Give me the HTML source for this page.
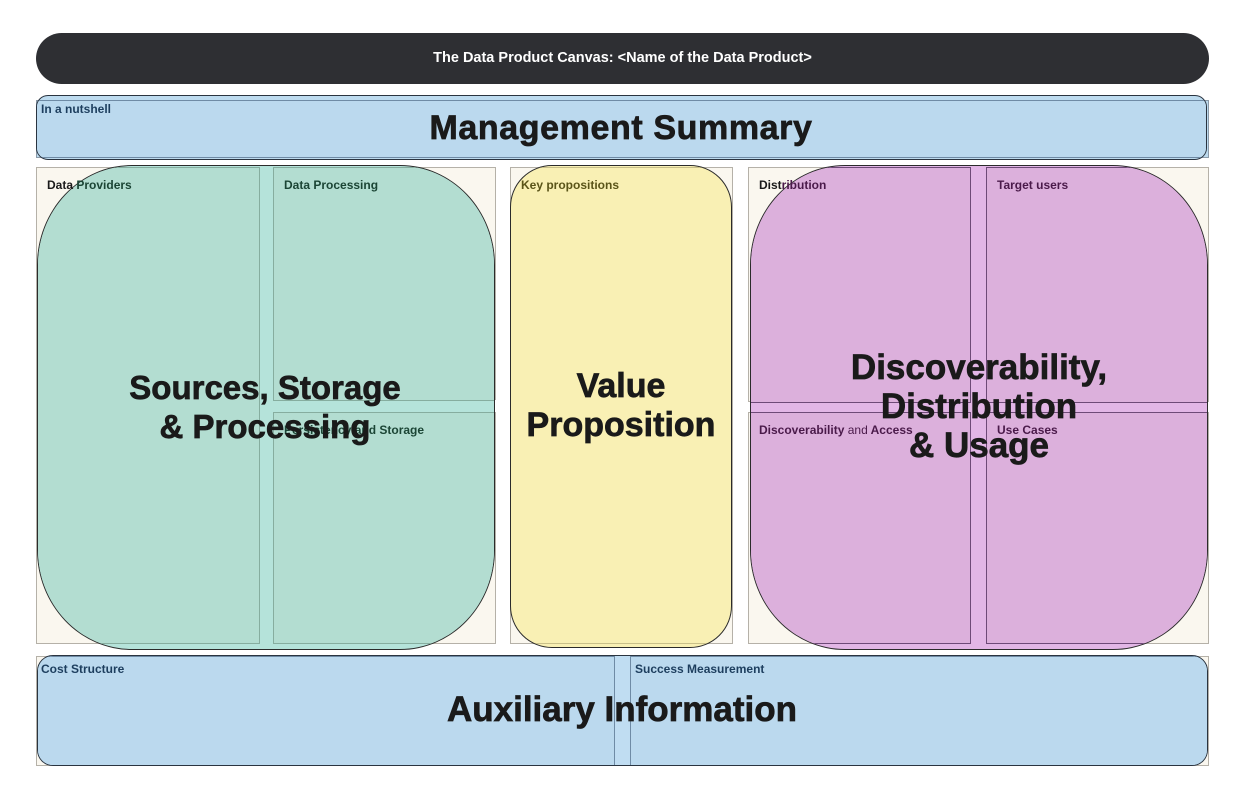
<!DOCTYPE html>
<html><head><meta charset="utf-8">
<style>
*{margin:0;padding:0;box-sizing:border-box}
html,body{width:1243px;height:804px;background:#fff;overflow:hidden;font-family:"Liberation Sans",Arial,sans-serif}
.a{position:absolute}
.cream{position:absolute;background:#faf7ef;border:1px solid #b5b1a8}
.blob{position:absolute;border:1px solid #2b2b2b;overflow:hidden}
.sub{position:absolute;border:1px solid}
.lbl{position:absolute;font-size:12px;font-weight:bold;line-height:14px;white-space:nowrap}
.big{position:absolute;font-weight:bold;color:#1a1a1a;text-align:center;white-space:nowrap;-webkit-text-stroke:0.7px #1a1a1a}
</style></head><body>

<!-- header -->
<div class="a" style="left:36px;top:33px;width:1173px;height:51px;border-radius:26px;background:#2e2f33"></div>
<div class="a" style="left:36px;top:49px;width:1173px;text-align:center;color:#fff;font-size:14.5px;font-weight:bold;line-height:18px">The Data Product Canvas: &lt;Name of the Data Product&gt;</div>

<!-- management summary -->
<div class="cream" style="left:36px;top:100px;width:1173px;height:58px;background:#bcdaee;border-color:#8b9aa8"></div>
<div class="blob" style="left:36px;top:95px;width:1171px;height:65px;border-radius:12px;background:#bddbef;border-color:#2a3440">
  <div class="sub" style="left:-1px;top:4px;width:1180px;height:58px;border-color:#6f8ba5;background:#bbd9ee"></div>
</div>
<div class="lbl" style="left:41px;top:102px;color:#1d3e5e">In a nutshell</div>
<div class="big" style="left:321px;top:108px;width:600px;font-size:34px;line-height:40px;letter-spacing:0.6px">Management Summary</div>

<!-- green section -->
<div class="cream" style="left:36px;top:167px;width:224px;height:477px"></div>
<div class="cream" style="left:273px;top:167px;width:223px;height:233px"></div>
<div class="cream" style="left:273px;top:412px;width:223px;height:232px"></div>
<div class="blob" style="left:37px;top:165px;width:458px;height:485px;border-radius:95px/100px;background:#b5e3da">
  <div class="sub" style="left:-2px;top:1px;width:224px;height:477px;background:#b3ddd1;border-color:#86ad9f"></div>
  <div class="sub" style="left:235px;top:1px;width:223px;height:234px;background:#b3ddd1;border-color:#86ad9f"></div>
  <div class="sub" style="left:235px;top:246px;width:223px;height:232px;background:#b3ddd1;border-color:#86ad9f"></div>
</div>
<div class="lbl" style="left:47px;top:178px;color:#1b4535"><span style="color:#1a1a1a">Data</span> Providers</div>
<div class="lbl" style="left:284px;top:178px;color:#1b4535">Data Processing</div>
<div class="lbl" style="left:284px;top:423px;color:#1b4535">Persistency and Storage</div>
<div class="big" style="left:65px;top:368px;width:400px;font-size:33px;line-height:39px">Sources, Storage<br>&amp; Processing</div>

<!-- yellow section -->
<div class="cream" style="left:510px;top:167px;width:223px;height:477px"></div>
<div class="blob" style="left:510px;top:165px;width:222px;height:483px;border-radius:42px;background:#f9f0b4">
  <div class="sub" style="left:-1px;top:1px;width:222px;height:477px;border-color:#c9c08a"></div>
</div>
<div class="lbl" style="left:521px;top:178px;color:#5a5418">Key propositions</div>
<div class="big" style="left:471px;top:367px;width:300px;font-size:34px;line-height:39px">Value<br>Proposition</div>

<!-- purple section -->
<div class="cream" style="left:748px;top:167px;width:223px;height:235px"></div>
<div class="cream" style="left:986px;top:167px;width:223px;height:235px"></div>
<div class="cream" style="left:748px;top:412px;width:223px;height:232px"></div>
<div class="cream" style="left:986px;top:412px;width:223px;height:232px"></div>
<div class="blob" style="left:750px;top:165px;width:458px;height:485px;border-radius:95px/100px;background:#e2b6e6">
  <div class="sub" style="left:-3px;top:1px;width:223px;height:236px;background:#dcb0dc;border-color:#6e4a78"></div>
  <div class="sub" style="left:235px;top:1px;width:223px;height:236px;background:#dcb0dc;border-color:#6e4a78"></div>
  <div class="sub" style="left:-3px;top:246px;width:223px;height:232px;background:#dcb0dc;border-color:#6e4a78"></div>
  <div class="sub" style="left:235px;top:246px;width:223px;height:232px;background:#dcb0dc;border-color:#6e4a78"></div>
</div>
<div class="lbl" style="left:759px;top:178px;color:#4a1a4a"><span style="color:#1a1a1a">Dist</span>ribution</div>
<div class="lbl" style="left:997px;top:178px;color:#4a1a4a">Target users</div>
<div class="lbl" style="left:759px;top:423px;color:#4a1a4a">Discoverability <span style="font-weight:normal">and</span> Access</div>
<div class="lbl" style="left:997px;top:423px;color:#4a1a4a">Use Cases</div>
<div class="big" style="left:779px;top:348px;width:400px;font-size:35px;line-height:39px">Discoverability,<br>Distribution<br>&amp; Usage</div>

<!-- bottom -->
<div class="cream" style="left:36px;top:656px;width:579px;height:110px"></div>
<div class="cream" style="left:630px;top:656px;width:579px;height:110px"></div>
<div class="blob" style="left:37px;top:655px;width:1171px;height:111px;border-radius:16px;background:#c0ddf2;border-color:#2a3440">
  <div class="sub" style="left:-2px;top:0px;width:579px;height:112px;background:#bbd9ee;border-color:#6f8ba5"></div>
  <div class="sub" style="left:592px;top:0px;width:579px;height:112px;background:#bbd9ee;border-color:#6f8ba5"></div>
</div>
<div class="lbl" style="left:41px;top:662px;color:#1d3e5e">Cost Structure</div>
<div class="lbl" style="left:635px;top:662px;color:#1d3e5e">Success Measurement</div>
<div class="big" style="left:322px;top:690px;width:600px;font-size:35px;line-height:40px">Auxiliary Information</div>

</body></html>
